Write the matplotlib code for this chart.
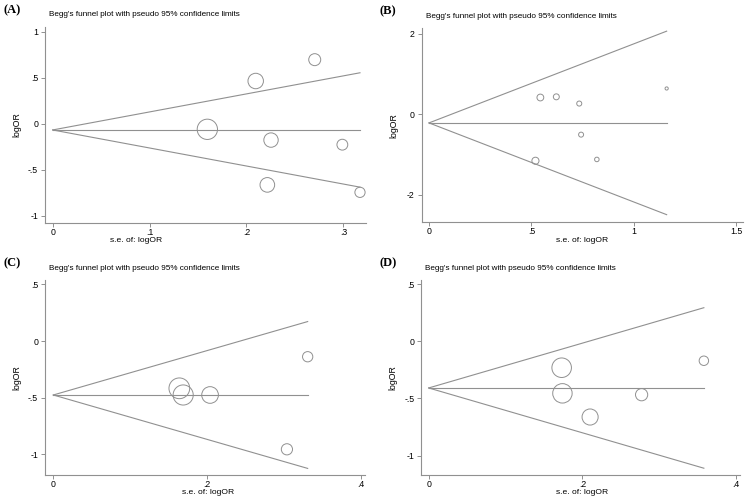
import numpy as np
import matplotlib.pyplot as plt

plt.rcParams['font.family'] = ['Liberation Sans', 'DejaVu Sans']

# (A)
se_a = [0.1596, 0.2095, 0.2704, 0.2253, 0.2215, 0.2989, 0.3171]
lor_a = [-0.061, 0.464, 0.696, -0.178, -0.665, -0.228, -0.746]
pooled_a = -0.068

# (B)
se_b = [0.544, 0.622, 0.734, 0.743, 0.520, 0.820, 1.161]
lor_b = [0.416, 0.433, 0.266, -0.505, -1.153, -1.120, 0.640]
pooled_b = -0.214

# (C)
se_c = [0.164, 0.169, 0.204, 0.331, 0.304]
lor_c = [-0.418, -0.477, -0.477, -0.139, -0.957]
pooled_c = -0.477

# (D)
se_d = [0.173, 0.174, 0.210, 0.277, 0.358]
lor_d = [-0.231, -0.455, -0.662, -0.467, -0.170]
pooled_d = -0.408

W, H = 745, 499
fig = plt.figure(figsize=(W / 100, H / 100), dpi=100)
grey = '#909090'


def px(x, y):
    return x / W, 1 - y / H


def stata_fmt(v):
    s = f"{v:g}"
    return s.replace('-0.', '-.').replace('0.', '.') if s != '0' else s


panels = [
    # label, se, lor, pooled, box(l, r, t, b), xlim, ylim, xticks, yticks, k, xlabel pos
    ('(A)', se_a, lor_a, pooled_a, (45, 366, 27, 222.7), (-0.0079, 0.3233), (-1.076, 1.051),
     [0, .1, .2, .3], [-1, -.5, 0, .5, 1], 1.62, (136, 241)),
    ('(B)', se_b, lor_b, pooled_b, (421.7, 743, 28, 222.3), (-0.0357, 1.534), (-2.679, 2.14),
     [0, .5, 1, 1.5], [-2, 0, 2], 1.85, (582, 240)),
    ('(C)', se_c, lor_c, pooled_c, (45, 365, 280, 475), (-0.0108, 0.4056), (-1.184, 0.539),
     [0, .2, .4], [-1, -.5, 0, .5], 1.70, (208, 493)),
    ('(D)', se_d, lor_d, pooled_d, (421.3, 740, 280, 475), (-0.0096, 0.405), (-1.169, 0.536),
     [0, .2, .4], [-1, -.5, 0, .5], 1.69, (582, 493)),
]

for label, se, lor, pooled, box, xlim, ylim, xt, yt, k, xlab_pos in panels:
    l, r, t, b = box
    ax = fig.add_axes([l / W, 1 - b / H, (r - l) / W, (b - t) / H])
    se = np.array(se)
    lor = np.array(lor)
    smax = se.max()

    # pooled estimate and pseudo 95% limits
    ax.plot([0, smax], [pooled, pooled], color=grey, lw=0.8)
    ax.plot([0, smax], [pooled, pooled + 1.96 * smax], color=grey, lw=0.8)
    ax.plot([0, smax], [pooled, pooled - 1.96 * smax], color=grey, lw=0.8)

    # circle radius in pixels ~ 1/se
    diam_pt = 2 * (k / se) * 0.72
    ax.scatter(se, lor, s=diam_pt ** 2, facecolors='none', edgecolors=grey, linewidths=0.7)

    ax.set_xlim(xlim)
    ax.set_ylim(ylim)
    ax.set_xticks(xt)
    ax.set_yticks(yt)
    ax.set_xticklabels([stata_fmt(v) for v in xt])
    ax.set_yticklabels([stata_fmt(v) for v in yt])
    ax.tick_params(direction='out', length=3, width=0.7, color=grey, labelsize=6.3, pad=2)
    ax.tick_params(axis='x', pad=0.5)
    for s in ['top', 'right']:
        ax.spines[s].set_visible(False)
    for s in ['left', 'bottom']:
        ax.spines[s].set_color(grey)
        ax.spines[s].set_linewidth(0.8)
    ax.patch.set_alpha(0)

    fig.text(*px(l - 28, (t + b) / 2), 'logOR', rotation=90, ha='center', va='center', fontsize=6.3)
    fig.text(*px(*xlab_pos), 's.e. of: logOR', ha='center', va='center', fontsize=6.1)
    fig.text(*px(l + 4, t - 12), "Begg's funnel plot with pseudo 95% confidence limits",
             ha='left', va='center', fontsize=5.9)
    fig.text(*px(l - 42, t - 17), label, ha='left', va='center', fontsize=9,
             fontweight='bold', family='Liberation Serif')

fig.savefig('out.png', dpi=100)
